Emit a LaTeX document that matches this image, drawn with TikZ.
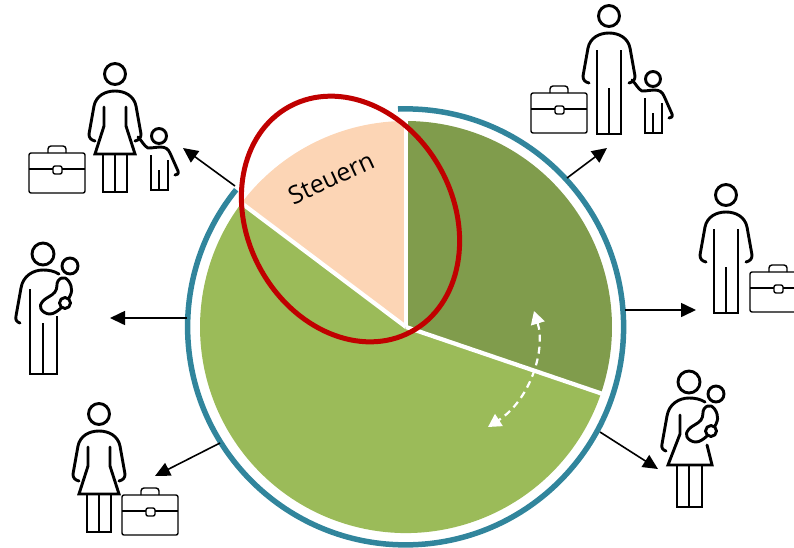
\documentclass[tikz,border=0pt]{standalone}
\usepackage{fontspec}
\setmainfont{Open Sans}
\usetikzlibrary{arrows.meta}
\definecolor{darkgreen}{HTML}{809C4C}
\definecolor{lightgreen}{HTML}{9BBB59}
\definecolor{peach}{HTML}{FCD5B5}
\definecolor{teal2}{HTML}{31859C}
\definecolor{red2}{HTML}{C00000}
\tikzset{
  figline/.style={line width=2.9pt,line join=round,line cap=round,black},
  thinline/.style={line width=1.4pt,line join=round,black},
  pointer/.style={line width=1.6pt,black,-{Triangle[length=15pt,width=14pt]}},
  sep/.style={line width=4.2pt,white},
  armsfull/.pic={
    \draw[figline] (-20,67) .. controls (-24,66) and (-26,64) .. (-26,60)
      -- (-21,32) .. controls (-19,22) and (-10,17) .. (0,17)
      .. controls (10,17) and (19,22) .. (21,32) -- (26,60)
      .. controls (26,64) and (24,66) .. (20,67);
  },
  manfig/.pic={
    \draw[figline] (0,0) circle[radius=10.5pt];
    \pic {armsfull};
    \draw[figline,line cap=butt,line join=miter] (-12,34) -- (-12,118) -- (12,118) -- (12,34);
    \draw[figline,line cap=butt] (0,72) -- (0,118);
  },
  womanfig/.pic={
    \draw[figline] (0,0) circle[radius=10.5pt];
    \pic {armsfull};
    \draw[figline,line join=miter] (-11,33) -- (-11,52) -- (-20,80) -- (20,80) -- (11,52) -- (11,33);
    \draw[figline,line cap=butt,line join=miter] (-12,80) -- (-12,118) -- (12,118) -- (12,80);
    \draw[figline,line cap=butt] (0,80) -- (0,118);
  },
  childfig/.pic={
    \draw[figline] (0,0) circle[radius=7.5pt];
    \draw[figline] (-21,1) .. controls (-17,5) and (-15,10) .. (-11,12)
      .. controls (-5,12) and (-3,11) .. (1,11)
      .. controls (7,11) and (9,13) .. (11,17) -- (19,35)
      .. controls (20,38) and (18,39) .. (16,39);
    \draw[figline,line cap=butt,line join=miter] (-8,19) -- (-8,54) -- (9,54) -- (9,24);
    \draw[figline,line cap=butt] (0,34) -- (0,54);
  },
  casefig/.pic={
    \draw[thinline,rounded corners=2pt] (0,0) rectangle (56,40);
    \draw[thinline,rounded corners=3pt] (19,0) -- (19,-7) -- (37,-7) -- (37,0);
    \draw[thinline] (0,16) -- (24,16) (33,16) -- (56,16);
    \draw[thinline,rounded corners=2pt] (24,13) -- (24,21) -- (33,21) -- (33,13) -- cycle;
  },
  babyfig/.pic={
    \draw[figline] (27,12) circle[radius=8pt];
    \draw[figline] plot[smooth cycle,tension=0.7] coordinates
      {(15,27) (12,38) (0,47) (-2,55) (7,60) (18,54) (27,42) (28,32) (22,24)};
    \draw[figline,fill=white] (22,49) circle[radius=5.5pt];
  },
  halfarm/.pic={
    \draw[figline] (-23,69) .. controls (-26,68) and (-28,66) .. (-27,62)
      -- (-22,34) .. controls (-20,22) and (-10,16) .. (0,16)
      .. controls (6,16) and (11,17) .. (16,20);
  },
  manbaby/.pic={
    \draw[figline] (0,0) circle[radius=11pt];
    \pic {halfarm};
    \draw[figline,line cap=butt,line join=miter] (-13,35) -- (-13,120) -- (14,120) -- (14,62);
    \draw[figline,line cap=butt] (0,69) -- (0,120);
    \pic {babyfig};
  },
  womanbaby/.pic={
    \draw[figline] (0,0) circle[radius=11pt];
    \pic {halfarm};
    \draw[figline,line join=miter] (-9,33) -- (-9,52) -- (-21,83) -- (23,83) -- (18,63);
    \draw[figline,line cap=butt,line join=miter] (-12,83) -- (-12,125) -- (13,125) -- (13,83);
    \draw[figline,line cap=butt] (0,83) -- (0,125);
    \pic {babyfig};
  }
}
\begin{document}
\begin{tikzpicture}[x=1pt,y=-1pt]
\useasboundingbox (0,0) rectangle (794,547);
\clip (0,0) rectangle (794,547);
\coordinate (c) at (406,327);
\coordinate (ptop) at (406,121);
\coordinate (pleft) at (241.5,203);
\coordinate (pright) at (601,393.4);
% pie
\fill[lightgreen] (c) -- (pright) arc[start angle=-18.8,end angle=-217,radius=206pt] -- cycle;
\fill[darkgreen] (c) -- (ptop) arc[start angle=90,end angle=-18.8,radius=206pt] -- cycle;
\fill[peach] (c) -- (pleft) arc[start angle=143,end angle=90,radius=206pt] -- cycle;
\draw[sep] (c) -- (406,118);
\draw[sep] (c) -- (238,200.5);
\draw[sep] (c) -- (604,394.4);
% ring
\draw[teal2,line width=5.5pt] (398,109) arc[start angle=92,end angle=-219,radius=218pt];
% label and ellipse
\node[rotate=25,font=\fontsize{25}{30}\selectfont,inner sep=0pt] (steuern) at (331,178) {Steuern};
\draw[red2,line width=5pt] (350.5,219) ellipse[x radius=128pt,y radius=103pt,rotate=-61.7];
% dashed double arrow
\coordinate (dashA) at (534,311);
\coordinate (dashB) at (488,427);
\draw[white,line width=2.2pt,dash pattern=on 7pt off 5pt,
  {Triangle[length=13pt,width=14pt]}-{Triangle[length=13pt,width=14pt]}]
  (dashA) .. controls (546,350) and (530,400) .. (dashB);
% pointers
\coordinate (s1) at (235,186); \coordinate (e1) at (183,148);
\coordinate (s2) at (567,178); \coordinate (e2) at (607,148);
\coordinate (s3) at (187,318); \coordinate (e3) at (110,318);
\coordinate (s4) at (625,310); \coordinate (e4) at (696,310);
\coordinate (s5) at (600,432); \coordinate (e5) at (658,469);
\coordinate (s6) at (220,443); \coordinate (e6) at (155,476);
\draw[pointer] (s1) -- (e1);
\draw[pointer] (s2) -- (e2);
\draw[pointer] (s3) -- (e3);
\draw[pointer] (s4) -- (e4);
\draw[pointer] (s5) -- (e5);
\draw[pointer] (s6) -- (e6);
% figures
\pic (w1) at (115,74) {womanfig};
\pic (ch1) at (159,136) {childfig};
\pic (ca1) at (29,153) {casefig};
\pic (m1) at (609,16) {manfig};
\pic (ch2) at (653,79) {childfig};
\pic (ca2) at (531,93) {casefig};
\pic (m2) at (726,195) {manfig};
\pic (ca3) at (750,272) {casefig};
\pic (mb) at (43,254) {manbaby};
\pic (w2) at (99,414) {womanfig};
\pic (ca4) at (122,495) {casefig};
\pic (wb) at (689,382) {womanbaby};
\end{tikzpicture}
\end{document}
